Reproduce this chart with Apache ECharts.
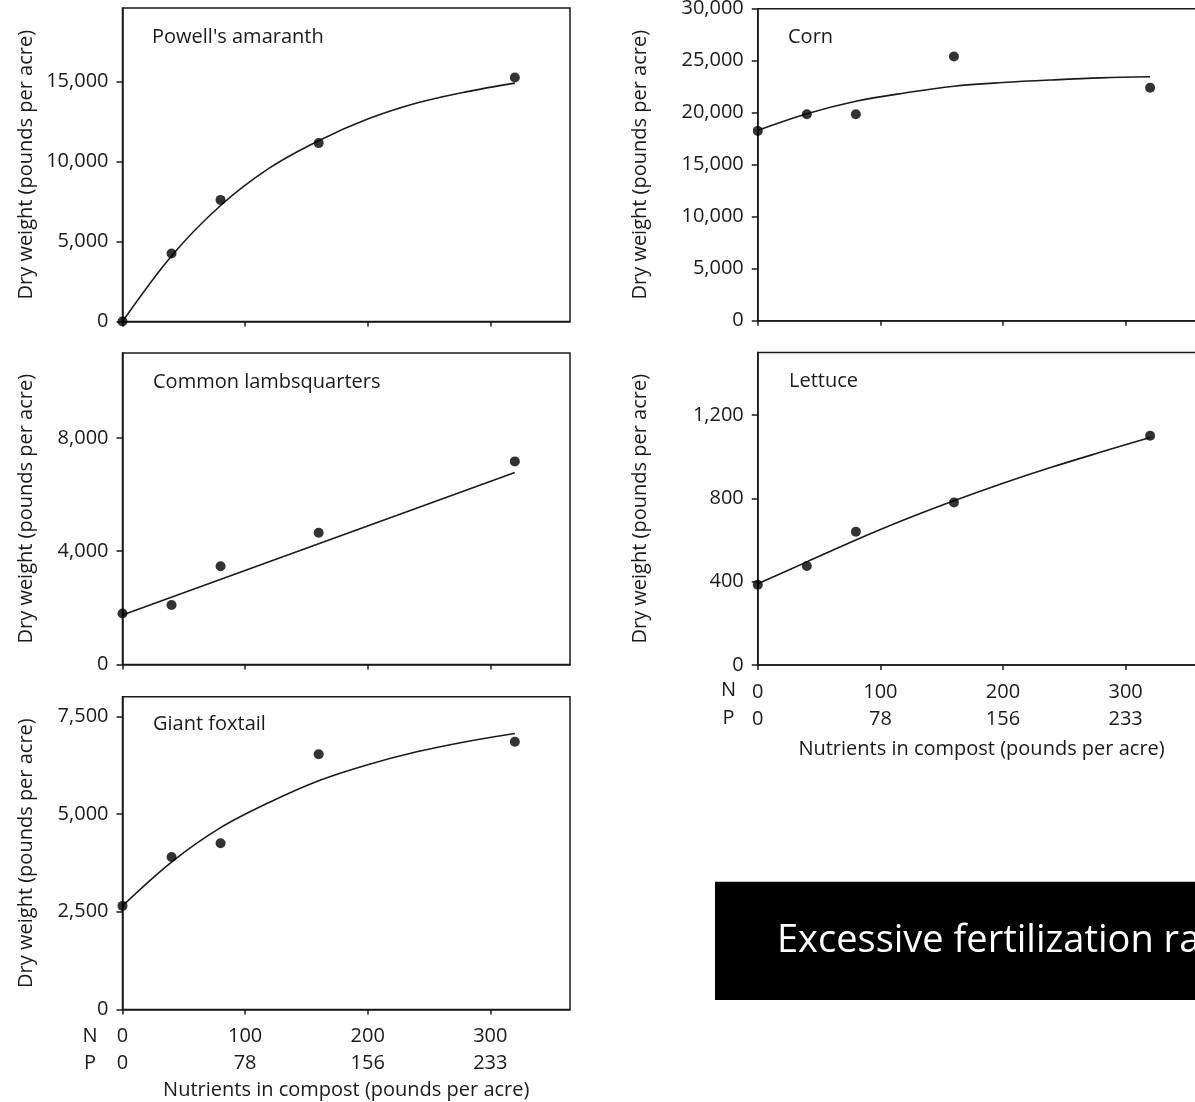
<!DOCTYPE html>
<html>
<head>
<meta charset="utf-8">
<script src="https://cdn.jsdelivr.net/npm/echarts@6/dist/echarts.min.js"></script>
<style>
html,body{margin:0;padding:0;background:#fff;}
#chart{width:1195px;height:1102px;}
</style>
</head>
<body>
<div id="chart"></div>
<script>
// ---- data ----
const nRates = [0, 40, 80, 160, 320];                       // compost N rate (lb/acre) for measured points
const curveX = [0, 40, 80, 120, 160, 200, 240, 280, 320];   // x positions where fitted curves were read

const xTickN = [0, 100, 200, 300];
const xTickP = ['0', '78', '156', '233'];

const panelTitles = ["Powell's amaranth", 'Corn', 'Common lambsquarters', 'Lettuce', 'Giant foxtail'];

const powellPoints = [0, 4250, 7600, 11150, 15250];
const powellCurve  = [0, 4100, 7250, 9600, 11300, 12650, 13650, 14350, 14900];
const powellYTicks = [0, 5000, 10000, 15000];

const cornPoints = [18250, 19850, 19850, 25400, 22400];
const cornCurve  = [18300, 19900, 21100, 21900, 22550, 22900, 23150, 23350, 23450];
const cornYTicks = [0, 5000, 10000, 15000, 20000, 25000, 30000];

const lambPoints = [1800, 2100, 3470, 4650, 7170];
const lambLineX  = [0, 320];
const lambLine   = [1750, 6780];
const lambYTicks = [0, 4000, 8000];

const lettucePoints = [385, 475, 640, 780, 1100];
const lettuceCurve  = [390, 495, 600, 698, 788, 872, 950, 1022, 1092];
const lettuceYTicks = [0, 400, 800, 1200];

const foxtailPoints = [2650, 3900, 4250, 6530, 6850];
const foxtailCurve  = [2650, 3770, 4650, 5300, 5850, 6260, 6590, 6850, 7060];
const foxtailYTicks = [0, 2500, 5000, 7500];

const yMax = [19600, 30000, 11000, 1500, 8000];

const yName = 'Dry weight (pounds per acre)';
const xName = 'Nutrients in compost (pounds per acre)';
const noteText = 'Excessive fertilization rates';

// ---- layout / styles ----
const FONT = 'Open Sans';
const INK = '#1a1a1a';
const FS = 20;

const gridBoxes = [
  {left: 122.5, top: 7.9,   width: 447.5, height: 313.6},
  {left: 757.8, top: 8.7,   width: 447.5, height: 312},
  {left: 122.5, top: 352.9, width: 447.5, height: 311.6},
  {left: 757.8, top: 352.5, width: 447.5, height: 312.5},
  {left: 122.5, top: 696.7, width: 447.5, height: 312.8}
];
const yTickSets = [powellYTicks, cornYTicks, lambYTicks, lettuceYTicks, foxtailYTicks];
const showXLabels = [false, false, false, true, true];
const yNameGap = [86, 108, 86, 108, 86];
const xNameGap = [0, 0, 0, 74, 71];

function zip(xs, ys) { return xs.map((x, i) => [x, ys[i]]); }
function fmt(v) { return Math.round(v).toLocaleString('en-US'); }

const grids = gridBoxes.map(g => Object.assign({
  show: true, borderColor: INK, borderWidth: 1.5, backgroundColor: 'transparent',
  outerBoundsMode: 'none', containLabel: false
}, g));

const axisLineStyle = {color: INK, width: 1.5};

const xAxes = gridBoxes.map((g, i) => ({
  type: 'value', gridIndex: i, min: 0, max: 365,
  axisLine: {show: true, onZero: false, lineStyle: axisLineStyle},
  axisTick: {show: true, inside: false, length: 5, customValues: xTickN, lineStyle: axisLineStyle},
  axisLabel: {
    show: showXLabels[i], customValues: xTickN, margin: 13.5,
    fontFamily: FONT, fontSize: FS, color: INK, lineHeight: 27,
    formatter: v => String(v) + '\n' + xTickP[xTickN.indexOf(v)]
  },
  splitLine: {show: false},
  name: showXLabels[i] ? xName : '',
  nameLocation: 'middle', nameGap: xNameGap[i],
  nameTextStyle: {fontFamily: FONT, fontSize: FS, color: INK}
}));

const yAxes = gridBoxes.map((g, i) => ({
  type: 'value', gridIndex: i, min: 0, max: yMax[i],
  axisLine: {show: true, onZero: false, lineStyle: axisLineStyle},
  axisTick: {show: true, inside: false, length: 6, customValues: yTickSets[i], lineStyle: axisLineStyle},
  axisLabel: {
    show: true, customValues: yTickSets[i], margin: 14,
    fontFamily: FONT, fontSize: FS, color: INK, formatter: fmt
  },
  splitLine: {show: false},
  name: yName, nameLocation: 'middle', nameGap: yNameGap[i],
  nameTextStyle: {fontFamily: FONT, fontSize: FS, color: INK}
}));

const pointSets = [powellPoints, cornPoints, lambPoints, lettucePoints, foxtailPoints];
const curveSets = [zip(curveX, powellCurve), zip(curveX, cornCurve), zip(lambLineX, lambLine),
                   zip(curveX, lettuceCurve), zip(curveX, foxtailCurve)];

const series = [];
for (let i = 0; i < 5; i++) {
  series.push({
    type: 'line', xAxisIndex: i, yAxisIndex: i, data: curveSets[i],
    smooth: i === 2 ? false : 0.35, showSymbol: false, symbol: 'none',
    lineStyle: {color: INK, width: 1.6}, z: 2, silent: true
  });
  series.push({
    type: 'scatter', xAxisIndex: i, yAxisIndex: i, data: zip(nRates, pointSets[i]),
    symbol: 'circle', symbolSize: 10, itemStyle: {color: '#000'}, z: 3
  });
}

const titleAnchors = [[152, 37], [788, 37.5], [153, 382.5], [789, 381.5], [153, 724]];
const graphics = titleAnchors.map((p, i) => ({
  type: 'text', x: p[0], y: p[1],
  style: {text: panelTitles[i], fontFamily: FONT, fontSize: FS, fill: INK, verticalAlign: 'middle', align: 'left'}
}));
// N / P row labels
[[90, 1036, 'N'], [90, 1063, 'P'], [728.5, 690.5, 'N'], [728.5, 718, 'P']].forEach(t => {
  graphics.push({type: 'text', x: t[0], y: t[1],
    style: {text: t[2], fontFamily: FONT, fontSize: FS, fill: INK, verticalAlign: 'middle', align: 'center'}});
});
// black note banner
graphics.push({type: 'rect', shape: {x: 715, y: 881.7, width: 520, height: 118.3}, style: {fill: '#000'}, z: 10});
graphics.push({type: 'text', x: 777, y: 941, z: 11,
  style: {text: noteText, fontFamily: 'Open Sans', fontSize: 38, fill: '#fff', verticalAlign: 'middle', align: 'left'}});

const chart = echarts.init(document.getElementById('chart'), null, {renderer: 'canvas'});
chart.setOption({
  animation: false,
  backgroundColor: '#fff',
  grid: grids,
  xAxis: xAxes,
  yAxis: yAxes,
  series: series,
  graphic: graphics
});
</script>
</body>
</html>
